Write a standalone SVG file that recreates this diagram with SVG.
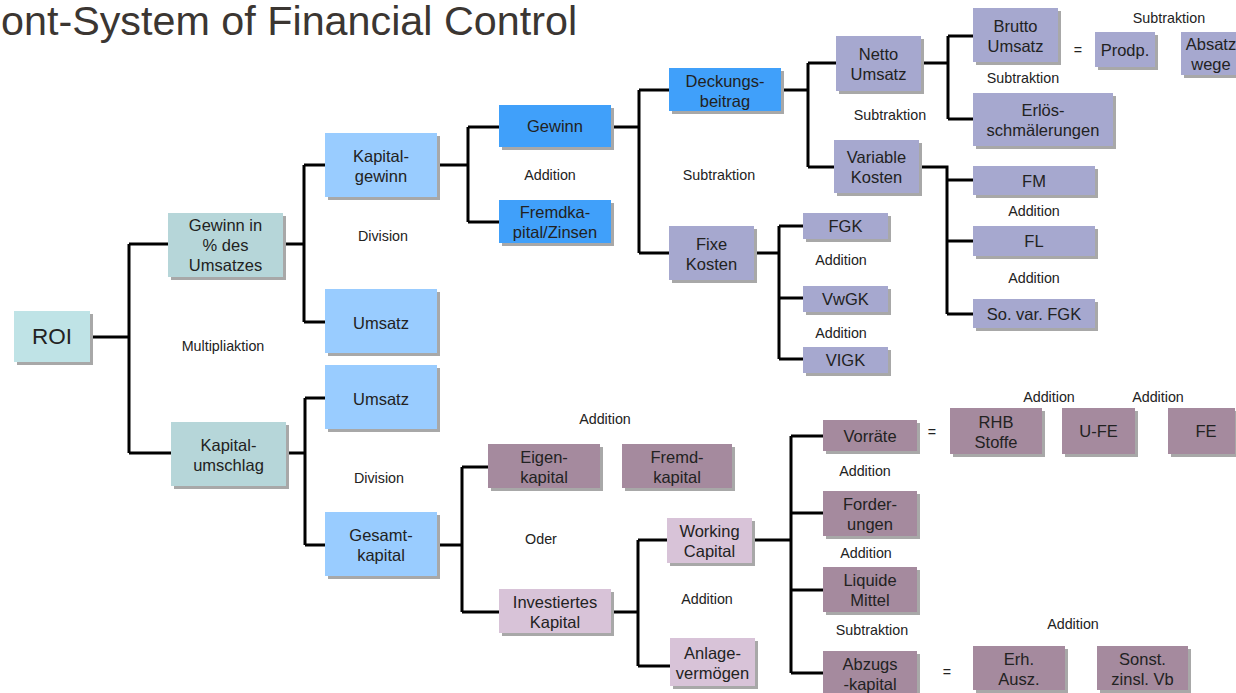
<svg xmlns="http://www.w3.org/2000/svg" width="1236" height="693" viewBox="0 0 1236 693">
<style>
.sh{fill:#a8a8a8}
.teal{fill:#b6d6d9}
.roi{fill:#bfe3e6}
.lb{fill:#99ccff}
.bb{fill:#40a0fa}
.pw{fill:#a6a8cf}
.mv{fill:#a58a9e}
.lm{fill:#d8c3d8}
text{font-family:"Liberation Sans",Arial,sans-serif;fill:#222}
.n{font-size:16.5px;text-anchor:middle}
.l{font-size:14.3px;text-anchor:middle}
.c path{fill:none;stroke:#000;stroke-width:3}
</style>
<rect width="1236" height="693" fill="#fff"/>
<text x="1" y="35" style="font-size:41.3px;fill:#3b3632">ont-System of Financial Control</text>

<g class="c" id="connectors">
<path d="M90,337H129M129,244V453M129,244H168M129,453H171"/>
<path d="M283,244H304M304,165V322M304,165H325M304,322H325"/>
<path d="M286,453H305M305,398V545M305,398H325M305,545H325"/>
<path d="M437,165H468M468,127V222M468,127H499M468,222H499"/>
<path d="M611,127H639M639,90V253M639,90H669M639,253H669"/>
<path d="M781,90H808M808,63V167M808,63H836M808,167H834"/>
<path d="M921,63H948M948,36V119M948,36H973M948,119H973"/>
<path d="M919,167H947V314M947,180H973M947,241H973M947,314H973"/>
<path d="M754,253H779M779,226V359M779,226H803M779,298H803M779,359H803"/>
<path d="M437,545H462M462,467V612M462,467H488M462,612H499"/>
<path d="M611,612H638M638,540V666M638,540H667M638,666H670"/>
<path d="M752,540H791M791,436V673M791,436H823M791,513H823M791,590H823M791,673H823"/>
</g>

<g id="roi"><rect class="sh" x="17" y="314" width="76" height="51"/><rect class="roi" x="14" y="311" width="76" height="51"/><text x="52" y="344" style="font-size:22.5px;text-anchor:middle">ROI</text></g>
<g id="gewinn-prozent"><rect class="sh" x="171" y="216" width="115" height="64"/><rect class="teal" x="168" y="213" width="115" height="64"/><text class="n" x="225.5" y="231">Gewinn in</text><text class="n" x="225.5" y="251">% des</text><text class="n" x="225.5" y="271">Umsatzes</text></g>
<g id="kapitalumschlag"><rect class="sh" x="174" y="425" width="115" height="64"/><rect class="teal" x="171" y="422" width="115" height="64"/><text class="n" x="228.5" y="450.5">Kapital-</text><text class="n" x="228.5" y="470.5">umschlag</text></g>

<g id="kapitalgewinn"><rect class="sh" x="328" y="136" width="112" height="64"/><rect class="lb" x="325" y="133" width="112" height="64"/><text class="n" x="381" y="161.5">Kapital-</text><text class="n" x="381" y="181.5">gewinn</text></g>
<g id="umsatz1"><rect class="sh" x="328" y="292" width="112" height="64"/><rect class="lb" x="325" y="289" width="112" height="64"/><text class="n" x="381" y="329">Umsatz</text></g>
<g id="umsatz2"><rect class="sh" x="328" y="368" width="112" height="64"/><rect class="lb" x="325" y="365" width="112" height="64"/><text class="n" x="381" y="405">Umsatz</text></g>
<g id="gesamtkapital"><rect class="sh" x="328" y="515" width="112" height="64"/><rect class="lb" x="325" y="512" width="112" height="64"/><text class="n" x="381" y="540.5">Gesamt-</text><text class="n" x="381" y="560.5">kapital</text></g>

<g id="gewinn"><rect class="sh" x="502" y="108" width="112" height="42"/><rect class="bb" x="499" y="105" width="112" height="42"/><text class="n" x="555" y="132">Gewinn</text></g>
<g id="fremdkapital-zinsen"><rect class="sh" x="502" y="203" width="112" height="43"/><rect class="bb" x="499" y="200" width="112" height="43"/><text class="n" x="555" y="218">Fremdka-</text><text class="n" x="555" y="238">pital/Zinsen</text></g>
<g id="deckungsbeitrag"><rect class="sh" x="672" y="71" width="112" height="43"/><rect class="bb" x="669" y="68" width="112" height="43"/><text class="n" x="725" y="86.5">Deckungs-</text><text class="n" x="725" y="106.5">beitrag</text></g>

<g id="fixe-kosten"><rect class="sh" x="672" y="229" width="85" height="54"/><rect class="pw" x="669" y="226" width="85" height="54"/><text class="n" x="711.5" y="249.5">Fixe</text><text class="n" x="711.5" y="269.5">Kosten</text></g>
<g id="netto-umsatz"><rect class="sh" x="839" y="39" width="85" height="55"/><rect class="pw" x="836" y="36" width="85" height="55"/><text class="n" x="878.5" y="60">Netto</text><text class="n" x="878.5" y="80">Umsatz</text></g>
<g id="variable-kosten"><rect class="sh" x="837" y="143" width="85" height="53"/><rect class="pw" x="834" y="140" width="85" height="53"/><text class="n" x="876.5" y="163">Variable</text><text class="n" x="876.5" y="183">Kosten</text></g>
<g id="brutto-umsatz"><rect class="sh" x="976" y="11" width="85" height="54"/><rect class="pw" x="973" y="8" width="85" height="54"/><text class="n" x="1015.5" y="31.5">Brutto</text><text class="n" x="1015.5" y="51.5">Umsatz</text></g>
<g id="erloesschmaelerungen"><rect class="sh" x="976" y="96" width="140" height="53"/><rect class="pw" x="973" y="93" width="140" height="53"/><text class="n" x="1043" y="116">Erlös-</text><text class="n" x="1043" y="136">schmälerungen</text></g>
<g id="prodp"><rect class="sh" x="1098" y="35" width="60" height="35"/><rect class="pw" x="1095" y="32" width="60" height="35"/><text class="n" x="1125" y="55.5">Prodp.</text></g>
<g id="absatzwege"><rect class="sh" x="1184" y="35" width="60" height="43"/><rect class="pw" x="1181" y="32" width="60" height="43"/><text class="n" x="1211" y="50">Absatz</text><text class="n" x="1211" y="70">wege</text></g>
<g id="fm"><rect class="sh" x="976" y="169" width="122" height="29"/><rect class="pw" x="973" y="166" width="122" height="29"/><text class="n" x="1034" y="186.5">FM</text></g>
<g id="fl"><rect class="sh" x="976" y="229" width="122" height="30"/><rect class="pw" x="973" y="226" width="122" height="30"/><text class="n" x="1034" y="247">FL</text></g>
<g id="so-var-fgk"><rect class="sh" x="976" y="302" width="122" height="29"/><rect class="pw" x="973" y="299" width="122" height="29"/><text class="n" x="1034" y="319.5">So. var. FGK</text></g>
<g id="fgk"><rect class="sh" x="806" y="216" width="85" height="26"/><rect class="pw" x="803" y="213" width="85" height="26"/><text class="n" x="845.5" y="232">FGK</text></g>
<g id="vwgk"><rect class="sh" x="806" y="289" width="85" height="26"/><rect class="pw" x="803" y="286" width="85" height="26"/><text class="n" x="845.5" y="305">VwGK</text></g>
<g id="vigk"><rect class="sh" x="806" y="350" width="85" height="26"/><rect class="pw" x="803" y="347" width="85" height="26"/><text class="n" x="845.5" y="366">VIGK</text></g>

<g id="eigenkapital"><rect class="sh" x="491" y="447" width="112" height="44"/><rect class="mv" x="488" y="444" width="112" height="44"/><text class="n" x="544" y="462.5">Eigen-</text><text class="n" x="544" y="482.5">kapital</text></g>
<g id="fremdkapital"><rect class="sh" x="625" y="447" width="110" height="44"/><rect class="mv" x="622" y="444" width="110" height="44"/><text class="n" x="677" y="462.5">Fremd-</text><text class="n" x="677" y="482.5">kapital</text></g>
<g id="investiertes-kapital"><rect class="sh" x="502" y="592" width="112" height="44"/><rect class="lm" x="499" y="589" width="112" height="44"/><text class="n" x="555" y="607.5">Investiertes</text><text class="n" x="555" y="627.5">Kapital</text></g>
<g id="working-capital"><rect class="sh" x="670" y="521" width="85" height="45"/><rect class="lm" x="667" y="518" width="85" height="45"/><text class="n" x="709.5" y="537">Working</text><text class="n" x="709.5" y="557">Capital</text></g>
<g id="anlagevermoegen"><rect class="sh" x="673" y="641" width="85" height="48"/><rect class="lm" x="670" y="638" width="85" height="48"/><text class="n" x="712.5" y="658.5">Anlage-</text><text class="n" x="712.5" y="678.5">vermögen</text></g>
<g id="vorraete"><rect class="sh" x="826" y="423" width="94" height="31"/><rect class="mv" x="823" y="420" width="94" height="31"/><text class="n" x="870" y="441.5">Vorräte</text></g>
<g id="forderungen"><rect class="sh" x="826" y="494" width="94" height="45"/><rect class="mv" x="823" y="491" width="94" height="45"/><text class="n" x="870" y="510">Forder-</text><text class="n" x="870" y="530">ungen</text></g>
<g id="liquide-mittel"><rect class="sh" x="826" y="570" width="94" height="45"/><rect class="mv" x="823" y="567" width="94" height="45"/><text class="n" x="870" y="586">Liquide</text><text class="n" x="870" y="606">Mittel</text></g>
<g id="abzugskapital"><rect class="sh" x="826" y="654" width="94" height="45"/><rect class="mv" x="823" y="651" width="94" height="45"/><text class="n" x="870" y="669.5">Abzugs</text><text class="n" x="870" y="689.5">-kapital</text></g>
<g id="rhb-stoffe"><rect class="sh" x="953" y="411" width="92" height="46"/><rect class="mv" x="950" y="408" width="92" height="46"/><text class="n" x="996" y="427.5">RHB</text><text class="n" x="996" y="447.5">Stoffe</text></g>
<g id="u-fe"><rect class="sh" x="1065" y="411" width="73" height="46"/><rect class="mv" x="1062" y="408" width="73" height="46"/><text class="n" x="1098.5" y="437">U-FE</text></g>
<g id="fe"><rect class="sh" x="1171" y="411" width="67" height="46"/><rect class="mv" x="1168" y="408" width="67" height="46"/><text class="n" x="1206" y="437">FE</text></g>
<g id="erh-ausz"><rect class="sh" x="976" y="649" width="92" height="44"/><rect class="mv" x="973" y="646" width="92" height="44"/><text class="n" x="1019" y="664.5">Erh.</text><text class="n" x="1019" y="684.5">Ausz.</text></g>
<g id="sonst-zinsl-vb"><rect class="sh" x="1100" y="649" width="91" height="44"/><rect class="mv" x="1097" y="646" width="91" height="44"/><text class="n" x="1142.5" y="664.5">Sonst.</text><text class="n" x="1142.5" y="684.5">zinsl. Vb</text></g>

<g id="labels">
<text class="l" x="383" y="241">Division</text>
<text class="l" x="223" y="351">Multipliaktion</text>
<text class="l" x="379" y="483">Division</text>
<text class="l" x="550" y="180">Addition</text>
<text class="l" x="719" y="180">Subtraktion</text>
<text class="l" x="890" y="120">Subtraktion</text>
<text class="l" x="1023" y="83">Subtraktion</text>
<text class="l" x="1169" y="23">Subtraktion</text>
<text class="l" x="1078" y="55">=</text>
<text class="l" x="1034" y="216">Addition</text>
<text class="l" x="1034" y="283">Addition</text>
<text class="l" x="841" y="265">Addition</text>
<text class="l" x="841" y="338">Addition</text>
<text class="l" x="605" y="424">Addition</text>
<text class="l" x="541" y="544">Oder</text>
<text class="l" x="707" y="604">Addition</text>
<text class="l" x="932" y="437">=</text>
<text class="l" x="1049" y="402">Addition</text>
<text class="l" x="1158" y="402">Addition</text>
<text class="l" x="865" y="476">Addition</text>
<text class="l" x="866" y="558">Addition</text>
<text class="l" x="872" y="635">Subtraktion</text>
<text class="l" x="1073" y="629">Addition</text>
<text class="l" x="947" y="677">=</text>
</g>
</svg>
